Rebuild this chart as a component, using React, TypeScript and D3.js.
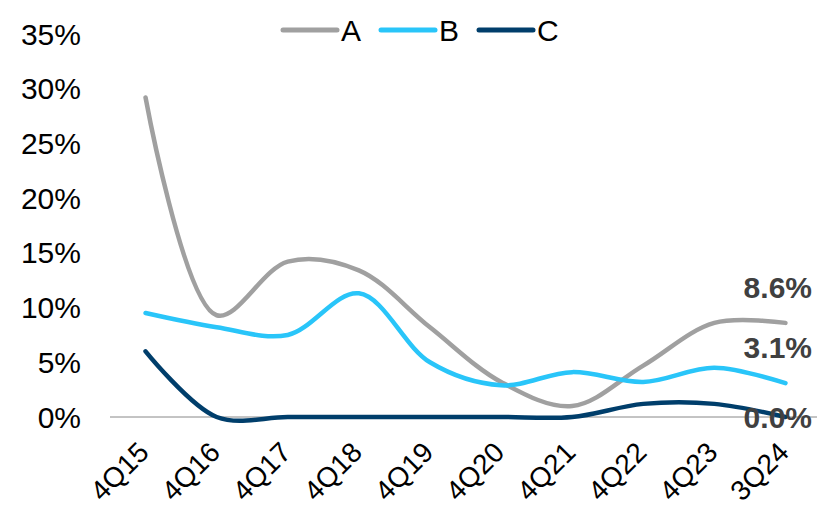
import React from "react";
import * as d3 from "d3";

const categories = ["4Q15", "4Q16", "4Q17", "4Q18", "4Q19", "4Q20", "4Q21", "4Q22", "4Q23", "3Q24"];
const seriesA = [29.2, 9.3, 14.2, 13.4, 8.2, 3.2, 1.0, 4.7, 8.6, 8.6];
const seriesB = [9.5, 8.2, 7.5, 11.3, 5.0, 2.9, 4.1, 3.2, 4.5, 3.1];
const seriesC = [6.0, 0.0, 0.0, 0.0, 0.0, 0.0, 0.0, 1.2, 1.2, 0.0];
const yTicks = [0, 5, 10, 15, 20, 25, 30, 35];
const seriesNames = ["A", "B", "C"];
const seriesColors = ["#A0A0A0", "#29C5F9", "#003E6B"];
const endLabels = ["8.6%", "3.1%", "0.0%"];

export default function App() {
  const W = 817, H = 510;
  const x = d3.scaleBand<string>().domain(categories).range([110, 821]);
  const y = d3.scaleLinear().domain([0, 35]).range([417, 34]);
  const cx = (c: string) => (x(c) as number) + x.bandwidth() / 2;
  const line = d3
    .line<number>()
    .x((_, i) => cx(categories[i]))
    .y((d) => y(d))
    .curve(d3.curveCatmullRom.alpha(0.5));
  const all = [seriesA, seriesB, seriesC];
  const labelY = [287, 347, 417];
  const font = "Liberation Sans, Arial, sans-serif";
  return (
    <svg width={W} height={H} style={{ position: "absolute", left: 0, top: 0, background: "#fff" }} fontFamily={font}>
      {yTicks.map((t) => (
        <text key={t} x={81} y={y(t)} dy="0.35em" textAnchor="end" fontSize={30} fill="#000">
          {t}%
        </text>
      ))}
      <line x1={110} x2={817} y1={y(0)} y2={y(0)} stroke="#888" strokeWidth={1} />
      {categories.map((c) => (
        <text
          key={c}
          transform={`translate(${cx(c) + 5},${454}) rotate(-45)`}
          textAnchor="end"
          fontSize={28}
          fill="#000"
        >
          {c}
        </text>
      ))}
      {all.map((s, i) => (
        <path key={i} d={line(s) as string} fill="none" stroke={seriesColors[i]} strokeWidth={4.5} strokeLinecap="round" />
      ))}
      {endLabels.map((l, i) => (
        <text key={l} x={812} y={labelY[i]} dy="0.35em" textAnchor="end" fontSize={30} fontWeight="bold" fill="#404040">
          {l}
        </text>
      ))}
      {seriesNames.map((n, i) => {
        const lx = 283 + i * 98;
        return (
          <g key={n}>
            <line x1={lx} x2={lx + 54} y1={30} y2={30} stroke={seriesColors[i]} strokeWidth={5} strokeLinecap="round" />
            <text x={lx + 58} y={30} dy="0.35em" fontSize={30} fill="#000">
              {n}
            </text>
          </g>
        );
      })}
    </svg>
  );
}
